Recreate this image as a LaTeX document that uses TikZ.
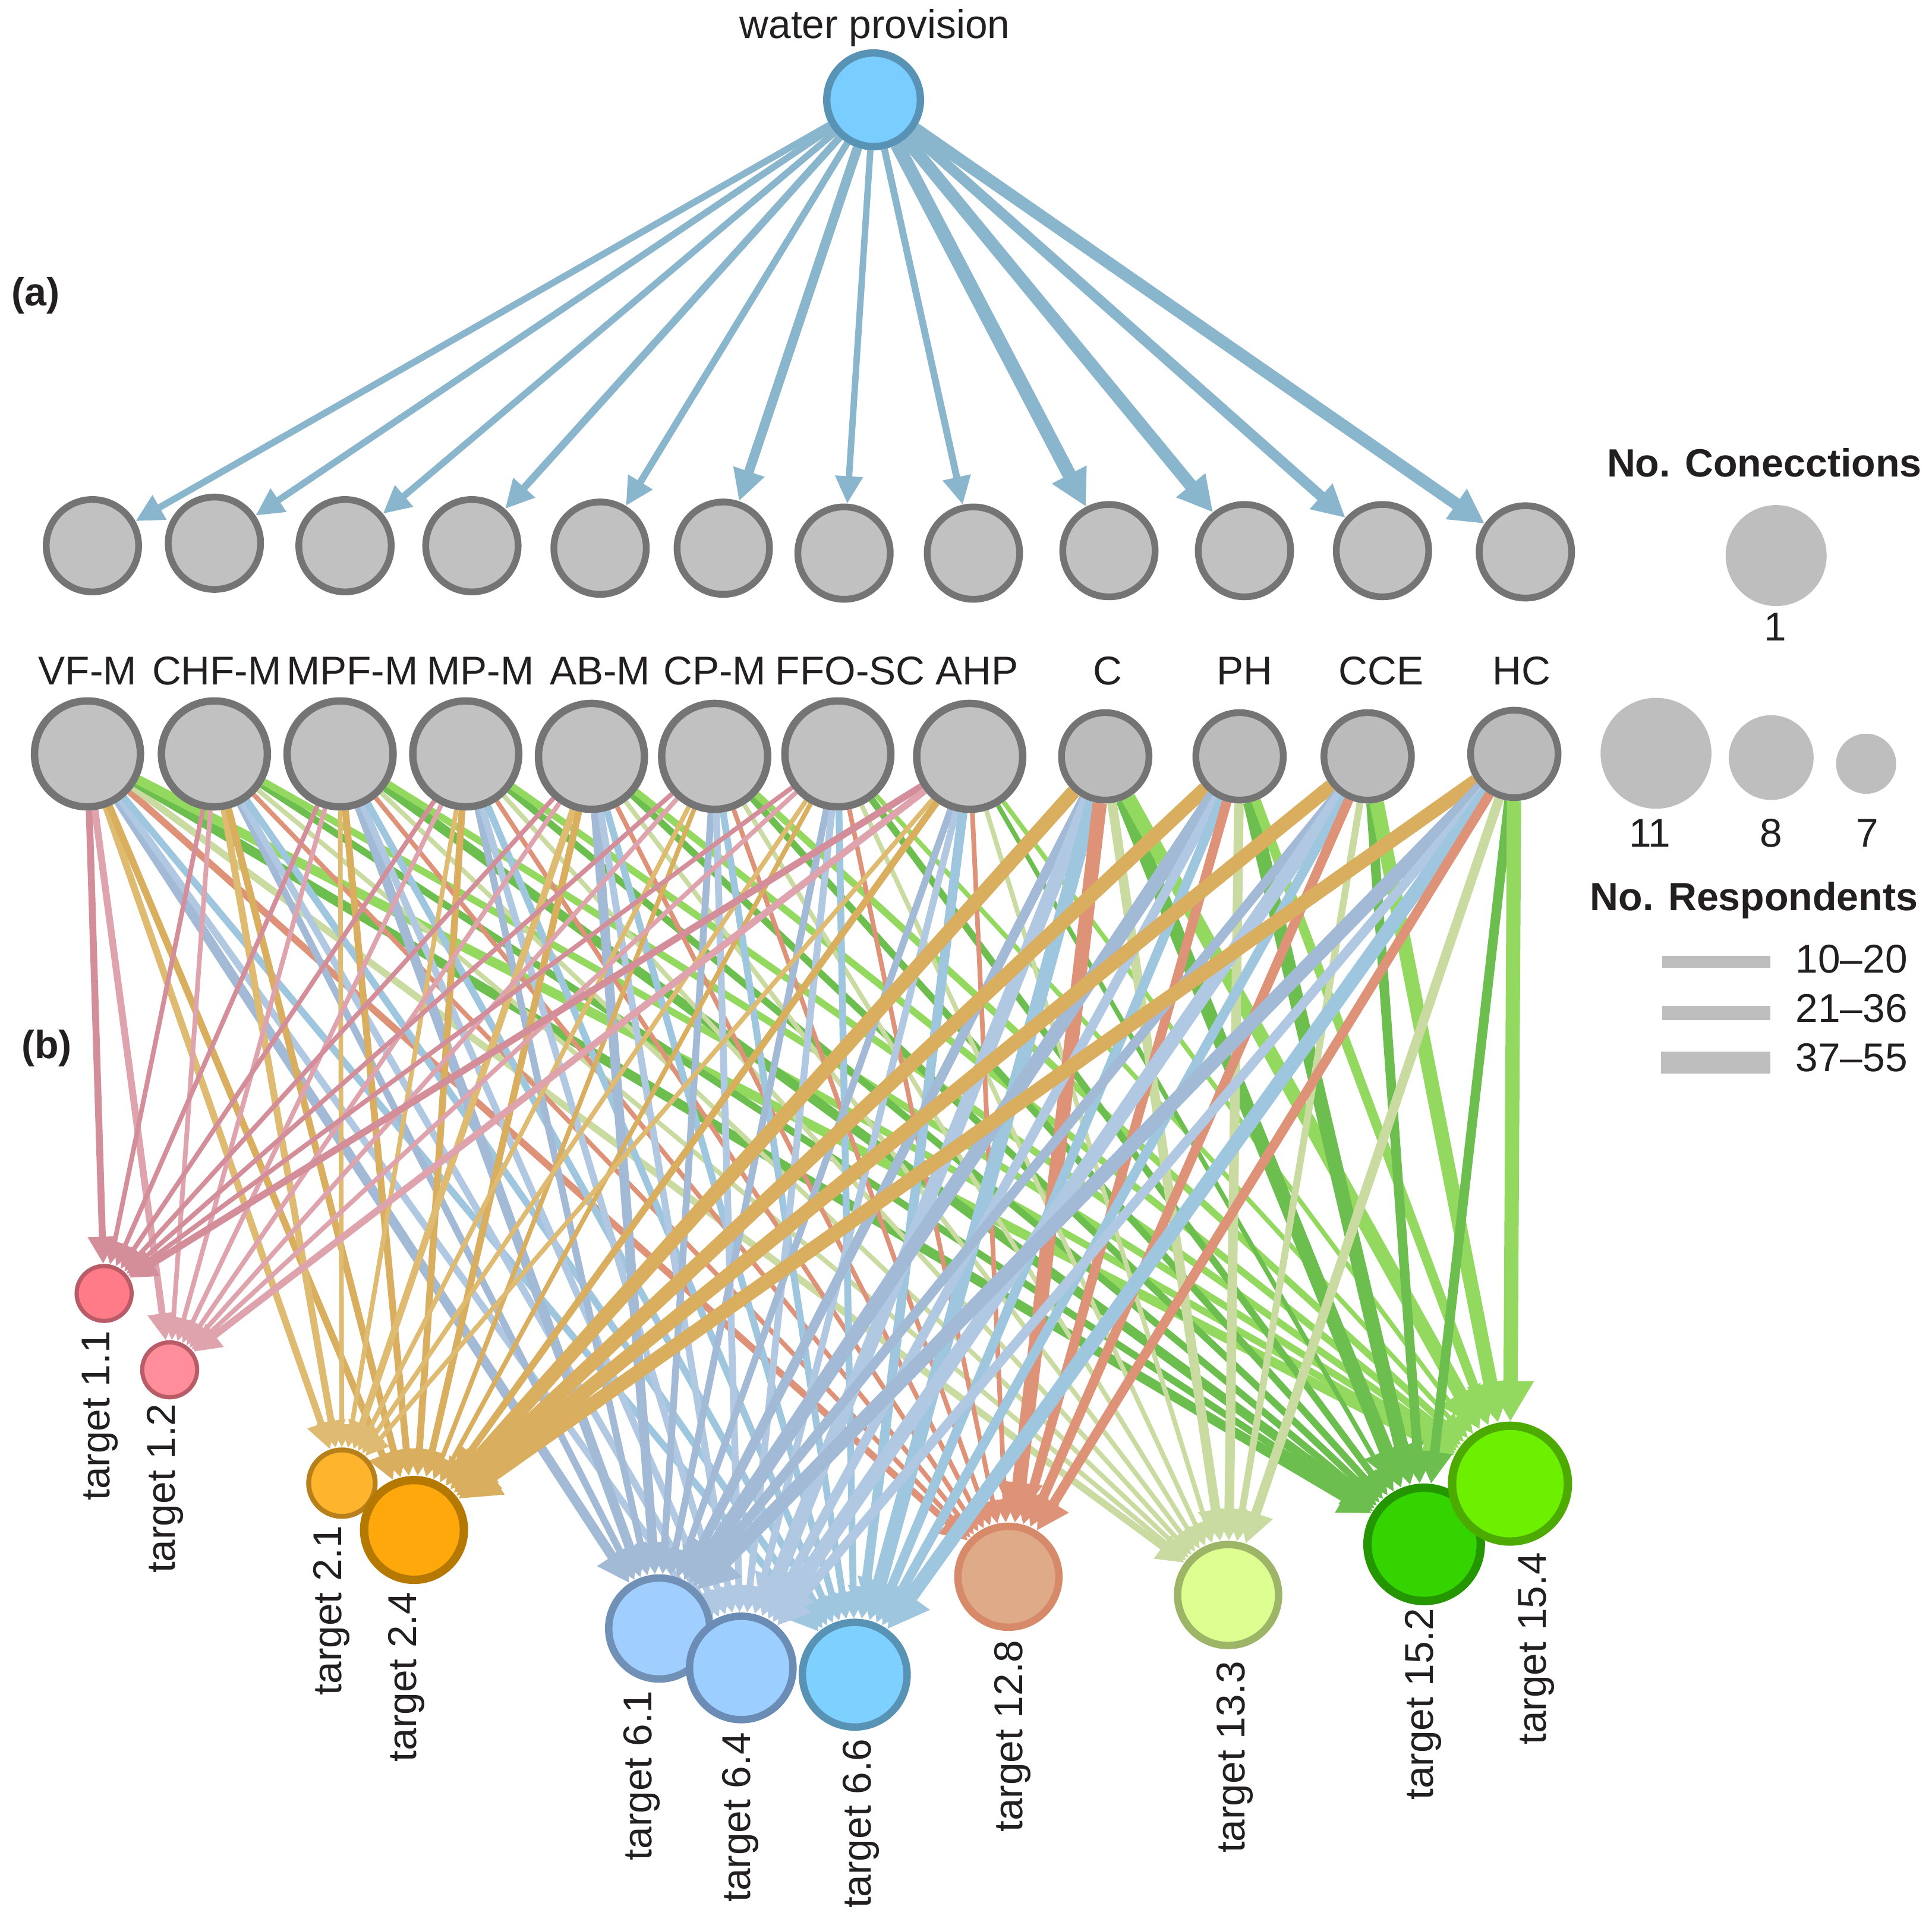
\documentclass[tikz,border=0pt]{standalone}
\usepackage{fontspec}
\setmainfont{Liberation Sans}
\usetikzlibrary{arrows.meta,backgrounds}
\definecolor{txt}{HTML}{231F20}
\definecolor{gfill}{HTML}{C1C1C1}
\definecolor{gfillb}{HTML}{BBBBBB}
\definecolor{gborder}{HTML}{747474}
\definecolor{legc}{HTML}{BEBEBE}
\definecolor{topcol}{HTML}{8AB6CD}
\definecolor{wpfill}{HTML}{7ACEFF}
\definecolor{wpborder}{HTML}{5893B5}
\definecolor{t11f}{HTML}{FF7B87}\definecolor{t11b}{HTML}{B95C68}
\definecolor{t12f}{HTML}{FF8D9A}\definecolor{t12b}{HTML}{B95C68}
\definecolor{t21f}{HTML}{FFB42E}\definecolor{t21b}{HTML}{B8801A}
\definecolor{t24f}{HTML}{FFA80C}\definecolor{t24b}{HTML}{B57800}
\definecolor{t61f}{HTML}{A0CFFF}\definecolor{t61b}{HTML}{7090B5}
\definecolor{t64f}{HTML}{9CCFFF}\definecolor{t64b}{HTML}{6B8DB5}
\definecolor{t66f}{HTML}{7DD0FF}\definecolor{t66b}{HTML}{5893B5}
\definecolor{t128f}{HTML}{DFAA88}\definecolor{t128b}{HTML}{D78A6A}
\definecolor{t133f}{HTML}{DDFF91}\definecolor{t133b}{HTML}{9CB566}
\definecolor{t152f}{HTML}{33D400}\definecolor{t152b}{HTML}{239600}
\definecolor{t154f}{HTML}{6DF000}\definecolor{t154b}{HTML}{4DAA00}
\definecolor{ett11}{HTML}{D48E99}
\definecolor{ett12}{HTML}{DEA3AD}
\definecolor{ett21}{HTML}{DFBB72}
\definecolor{ett24}{HTML}{D9AE5E}
\definecolor{ett61}{HTML}{A2BAD6}
\definecolor{ett64}{HTML}{B0C8E2}
\definecolor{ett66}{HTML}{9EC7DF}
\definecolor{ett128}{HTML}{DE9278}
\definecolor{ett133}{HTML}{CADBA2}
\definecolor{ett152}{HTML}{6CBF4F}
\definecolor{ett154}{HTML}{94D95F}
\def\wA{2,2,2,2,3,2,2,2,2,3,3}
\def\wB{1,1,2,2,2,2,2,1,1,2,2}
\def\wC{1,1,1,2,3,2,2,1,1,3,2}
\def\wD{1,1,1,2,2,2,2,1,1,2,2}
\def\wE{1,1,2,2,3,2,2,1,1,2,2}
\def\wF{1,1,1,1,2,2,2,1,1,2,2}
\def\wG{1,1,1,1,2,2,2,1,1,2,1}
\def\wH{2,2,1,2,2,2,3,1,1,1,1}
\def\wI{0,0,0,4,3,4,4,4,3,4,4}
\def\wJ{0,0,0,4,4,3,3,3,3,4,3}
\def\wK{0,0,0,4,3,4,3,3,2,3,4}
\def\wL{0,0,0,4,4,3,4,3,3,3,4}
\begin{document}
\begin{tikzpicture}[x=0.5pt,y=-0.5pt,
  lab/.style={font=\fontsize{16.3}{19}\selectfont,text=txt,inner sep=0pt},
  blab/.style={font=\fontsize{16}{19}\selectfont\bfseries,text=txt,inner sep=0pt},
  tlab/.style={lab,rotate=90,anchor=east},
  rowa/.style={circle,draw=gborder,fill=gfill,line width=2.75pt,minimum size=37.5pt,inner sep=0pt},
  rowb/.style={circle,draw=gborder,fill=gfill,line width=3pt,minimum size=43pt,inner sep=0pt},
  rowc/.style={circle,draw=gborder,fill=gfillb,line width=2.75pt,minimum size=35.5pt,inner sep=0pt},
  tgt/.style n args={4}{circle,draw=#2,fill=#1,line width=#3,minimum size=#4,inner sep=0pt},
  legcirc/.style={circle,fill=legc,inner sep=0pt,minimum size=#1},
  topline/.style={draw=topcol,line width=#1,-{Triangle[length=8pt 1.2,width=7pt 1.4]}},
  link/.style={draw=#1,-{Triangle[length=6pt 1.8,width=5pt 2.2]}}
]
\useasboundingbox (0,0) rectangle (1568,1560);

% ---- top node
\node[lab,anchor=base] (wplab) at (710,31) {water provision};
\node[circle,draw=wpborder,fill=wpfill,line width=3pt,minimum size=38pt,inner sep=0pt] (wp) at (709,81) {};

\node[blab,anchor=base west] (pa) at (9,248) {(a)};
\node[blab,anchor=base west] (pb) at (17,859) {(b)};

% ---- row a
\foreach \n/\x/\y in {a1/75/443,a2/174/441,a3/280/443,a4/383/443,a5/487/445,a6/587/445,a7/685/449,a8/790/449,a9/900/447,a10/1010/447,a11/1122/447,a12/1238/448}
  \node[rowa] (\n) at (\x,\y) {};

% ---- row b labels
\foreach \n/\x/\tx in {l1/71/VF-M,l2/176/CHF-M,l3/286/MPF-M,l4/390/MP-M,l5/487/AB-M,l6/580/CP-M,l7/690/FFO-SC,l8/793/AHP,l9/899/C,l10/1010/PH,l11/1121/CCE,l12/1235/HC}
  \node[lab,anchor=base] (\n) at (\x,556) {\tx};

% ---- row b nodes
\foreach \n/\x/\y in {s1/71/612,s2/174/612,s3/276/612,s4/378/612,s5/480/614,s6/580/614,s7/680/612,s8/787/614}
  \node[rowb] (\n) at (\x,\y) {};
\foreach \n/\x/\y in {s9/897/614,s10/1006/614,s11/1110/614,s12/1229/612}
  \node[rowc] (\n) at (\x,\y) {};

% ---- targets
\node[tgt={t11f}{t11b}{1.7pt}{22.3pt}] (t11) at (84.5,1050) {};
\node[tgt={t12f}{t12b}{1.7pt}{22.3pt}] (t12) at (137.7,1112) {};
\node[tgt={t21f}{t21b}{2pt}{27pt}] (t21) at (277.5,1204) {};
\node[tgt={t24f}{t24b}{3.4pt}{40.5pt}] (t24) at (336,1242) {};
\node[tgt={t61f}{t61b}{3pt}{41pt}] (t61) at (535,1322) {};
\node[tgt={t64f}{t64b}{3pt}{42pt}] (t64) at (601.6,1354) {};
\node[tgt={t66f}{t66b}{3pt}{42.5pt}] (t66) at (693.7,1359.5) {};
\node[tgt={t128f}{t128b}{3pt}{41pt}] (t128) at (818.4,1280) {};
\node[tgt={t133f}{t133b}{3pt}{41pt}] (t133) at (996.7,1294.8) {};
\node[tgt={t152f}{t152b}{3.4pt}{46pt}] (t152) at (1155.8,1253.7) {};
\node[tgt={t154f}{t154b}{3.4pt}{47pt}] (t154) at (1225.5,1204.4) {};

\node[tlab] (lt11) at (81,1080) {target 1.1};
\node[tlab] (lt12) at (134,1139) {target 1.2};
\node[tlab] (lt21) at (269,1238) {target 2.1};
\node[tlab] (lt24) at (330,1292) {target 2.4};
\node[tlab] (lt61) at (521,1372) {target 6.1};
\node[tlab] (lt64) at (601,1406) {target 6.4};
\node[tlab] (lt66) at (699,1411) {target 6.6};
\node[tlab] (lt128) at (822,1331) {target 12.8};
\node[tlab] (lt133) at (1002,1348) {target 13.3};
\node[tlab] (lt152) at (1155,1305) {target 15.2};
\node[tlab] (lt154) at (1247,1260) {target 15.4};

% ---- legend
\node[blab,anchor=base east] (lgc) at (1560,387) {No. Conecctions};
\node[legcirc=41pt] (lg1) at (1441.5,451) {};
\node[lab,anchor=base] (lg1t) at (1441,520) {1};
\node[legcirc=45pt] (lg11) at (1344,611.5) {};
\node[legcirc=34.4pt] (lg8) at (1437.5,615) {};
\node[legcirc=24.4pt] (lg7) at (1514.5,620) {};
\node[lab,anchor=base] (lg11t) at (1339,687.5) {11};
\node[lab,anchor=base] (lg8t) at (1437.5,687.5) {8};
\node[lab,anchor=base] (lg7t) at (1515.5,687.5) {7};
\node[blab,anchor=base east] (lgr) at (1557,739) {No. Respondents};
\fill[legc] (1349,776.2) rectangle (1437,785.8);
\fill[legc] (1349,816.3) rectangle (1437,828.3);
\fill[legc] (1348,853.9) rectangle (1437,871.5);
\node[lab,anchor=base west] (lr1) at (1457,790) {10–20};
\node[lab,anchor=base west] (lr2) at (1457,830) {21–36};
\node[lab,anchor=base west] (lr3) at (1457,870) {37–55};

% ---- edges
\begin{pgfonlayer}{background}
\foreach \n/\w in {a1/2.7pt,a2/2.7pt,a3/2.7pt,a4/3.0pt,a5/2.8pt,a6/3.9pt,a7/2.6pt,a8/2.8pt,a9/5.6pt,a10/5.2pt,a11/4.3pt,a12/5.0pt}
  \draw[topline=\w] (wp) -- (\n);
\foreach \src/\wl in {s1/\wA,s2/\wB,s3/\wC,s4/\wD,s5/\wE,s6/\wF,s7/\wG,s8/\wH,s9/\wI,s10/\wJ,s11/\wK,s12/\wL}{
  \foreach \tg [count=\i from 0] in {t11,t12,t21,t24,t61,t64,t66,t128,t133,t152,t154}{
    \pgfmathtruncatemacro\wi{{\wl}[\i]}
    \ifnum\wi>0
      \pgfmathsetmacro\lw{{0,1.9,2.8,3.9,5.8}[\wi]}
      \draw[link=et\tg,line width=\lw pt] (\src) -- (\tg);
    \fi
  }
}
\end{pgfonlayer}
\end{tikzpicture}
\end{document}
